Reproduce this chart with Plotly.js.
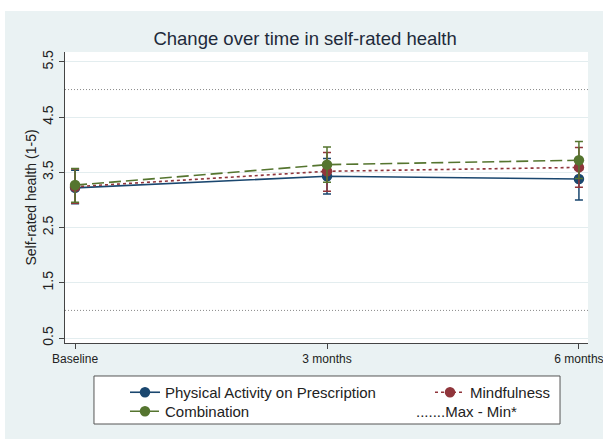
<!DOCTYPE html>
<html>
<head>
<meta charset="utf-8">
<script src="https://cdn.plot.ly/plotly-3.0.1.min.js"></script>
<style>
html,body{margin:0;padding:0;background:#ffffff;}
#chart{position:absolute;left:0;top:0;width:603px;height:442px;}
.edge{position:absolute;background:#ffffff;}
</style>
</head>
<body>
<div id="chart"></div>
<div class="edge" style="left:0;top:0;width:603px;height:11px;"></div>
<div class="edge" style="left:0;top:0;width:5px;height:442px;"></div>
<div class="edge" style="left:0;top:439px;width:603px;height:3px;"></div>
<script>
// ---- data ----
const timepoints = ['Baseline', '3 months', '6 months'];
const timeIndex = [0, 1, 2];

const papMean = [3.22, 3.43, 3.38];
const papLow  = [2.93, 3.11, 3.00];
const papHigh = [3.54, 3.75, 3.76];

const mindMean = [3.24, 3.52, 3.59];
const mindLow  = [2.94, 3.16, 3.23];
const mindHigh = [3.56, 3.86, 3.95];

const combMean = [3.27, 3.64, 3.72];
const combLow  = [2.96, 3.32, 3.39];
const combHigh = [3.57, 3.96, 4.06];

const refLines = [1, 5];
const yTicks = [0.5, 1.5, 2.5, 3.5, 4.5, 5.5];

const seriesNames = ['Physical Activity on Prescription', 'Mindfulness', 'Combination'];
const refLabel = '.......Max - Min*';

// ---- build ----
function up(h, m) { return h.map((v, i) => v - m[i]); }
function dn(l, m) { return l.map((v, i) => m[i] - v); }

const colors = ['#1a476f', '#90353b', '#55752f'];
const dashes = ['solid', '3px,3px', '12px,5px'];
const legendIds = ['legend', 'legend2', 'legend4'];
const means = [papMean, mindMean, combMean];
const lows = [papLow, mindLow, combLow];
const highs = [papHigh, mindHigh, combHigh];

const traces = means.map((m, k) => ({
  type: 'scatter',
  mode: 'lines+markers',
  name: seriesNames[k],
  legend: legendIds[k],
  x: timeIndex,
  y: m,
  line: {color: colors[k], width: 1.6, dash: dashes[k]},
  marker: {color: colors[k], size: 10.5, symbol: 'circle'},
  error_y: {
    type: 'data', symmetric: false,
    array: up(highs[k], m), arrayminus: dn(lows[k], m),
    color: colors[k], thickness: 1.5, width: 4
  }
}));

traces.push({
  type: 'scatter', mode: 'lines', name: refLabel,
  legend: 'legend3',
  x: [null], y: [null],
  line: {width: 0, color: 'rgba(0,0,0,0)'},
  hoverinfo: 'skip'
});

const shapes = refLines.map(v => ({
  type: 'line', xref: 'paper', yref: 'y',
  x0: 0, x1: 1, y0: v, y1: v,
  line: {color: '#8a8a8a', width: 1, dash: '1px,2px'},
  layer: 'above'
}));
// legend frame
shapes.push({
  type: 'rect', xref: 'paper', yref: 'paper',
  x0: 0.0554, x1: 0.9465, y0: -0.2784, y1: -0.1134,
  fillcolor: '#ffffff', line: {color: '#555555', width: 1},
  layer: 'below'
});

const font = 'Liberation Sans, Arial, sans-serif';
const legFont = {family: font, size: 15, color: '#222'};
const legBase = {orientation: 'v', bgcolor: 'rgba(0,0,0,0)', borderwidth: 0,
                 font: legFont, xanchor: 'left', yanchor: 'top', traceorder: 'normal'};

const layout = {
  width: 603, height: 442,
  paper_bgcolor: '#eaf2f3',
  plot_bgcolor: '#ffffff',
  margin: {l: 65, r: 15, t: 52, b: 99, autoexpand: false},
  font: {family: font, color: '#222222'},
  title: {
    text: 'Change over time in self-rated health',
    font: {family: font, size: 18.5, color: '#1e2a3a'},
    xref: 'container', x: 0.506, xanchor: 'center',
    yref: 'container', y: 1 - 39 / 442, yanchor: 'middle'
  },
  xaxis: {
    range: [-0.04, 2.036],
    tickmode: 'array', tickvals: timeIndex, ticktext: timepoints,
    ticks: 'outside', ticklen: 5, tickcolor: '#444', tickwidth: 1,
    showline: true, linecolor: '#444', linewidth: 1,
    showgrid: false, zeroline: false,
    ticklabeloverflow: 'allow',
    tickfont: {size: 12, color: '#222'}
  },
  yaxis: {
    range: [0.41, 5.68],
    tickmode: 'array', tickvals: yTicks, ticktext: yTicks.map(v => v.toFixed(1)),
    tickangle: -90,
    ticks: 'outside', ticklen: 5, tickcolor: '#444', tickwidth: 1,
    showline: true, linecolor: '#444', linewidth: 1,
    showgrid: true, gridcolor: '#e3edef', gridwidth: 1,
    zeroline: false,
    tickfont: {size: 14, color: '#222'},
    title: {text: 'Self-rated health (1-5)', font: {size: 14, color: '#222'}, standoff: 0}
  },
  shapes: shapes,
  showlegend: true,
  legend:  Object.assign({}, legBase, {x: 0.1147, y: -0.1134}),
  legend2: Object.assign({}, legBase, {x: 0.6979, y: -0.1134}),
  legend3: Object.assign({}, legBase, {x: 0.5946, y: -0.1787}),
  legend4: Object.assign({}, legBase, {x: 0.1147, y: -0.1787})
};

Plotly.newPlot('chart', traces, layout, {displayModeBar: false, staticPlot: true});
</script>
</body>
</html>
